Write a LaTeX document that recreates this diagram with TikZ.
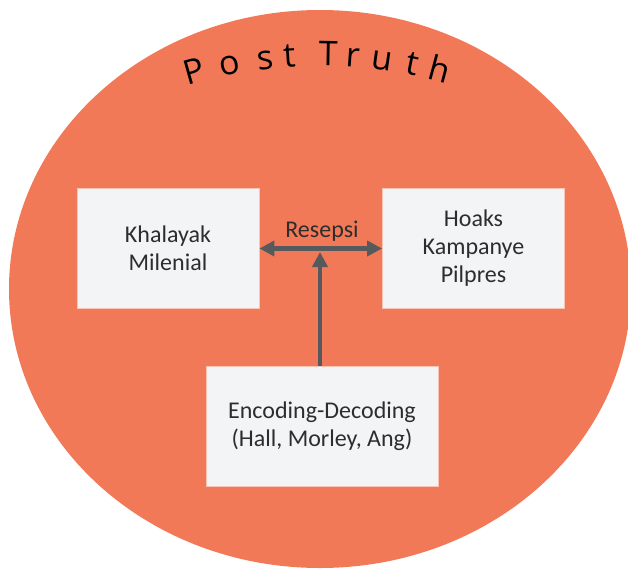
\documentclass[tikz,border=0pt]{standalone}
\usepackage{fontspec}
\setmainfont{Carlito}
\newfontfamily\titlefont{Open Sans}
\usetikzlibrary{arrows.meta,calc}
\definecolor{bgorange}{RGB}{242,121,88}
\definecolor{boxgrey}{RGB}{243,244,246}
\definecolor{boxedge}{RGB}{248,196,182}
\definecolor{arrowgrey}{RGB}{87,90,92}
\definecolor{txt}{RGB}{45,45,45}
\begin{document}
\begin{tikzpicture}[x=0.5pt,y=-0.5pt,
  box/.style={draw=boxedge, line width=0.4pt, fill=boxgrey, minimum width=91pt,
    minimum height=60pt, inner sep=0pt, align=center,
    font=\fontsize{12}{14}\selectfont, text=txt},
  tip/.tip={Triangle[length=7.5pt,width=7.5pt]},
  conn/.style={draw=arrowgrey, line width=2.25pt, -tip},
  dblconn/.style={draw=arrowgrey, line width=2.25pt, tip-tip},
  lbl/.style={font=\fontsize{12}{14}\selectfont, text=txt, inner sep=0pt},
  titleletter/.style={anchor=base, inner sep=0pt, font=\titlefont\fontsize{17}{20}\selectfont, text=black}
]
\useasboundingbox (0,0) rectangle (628,569);
\fill[bgorange] (320,289) ellipse [x radius=311, y radius=279];

\foreach \l/\a [count=\i] in {P/-15.86, o/-11.28, s/-6.76, t/-3.82, T/1.02, r/4.08, u/7.79, t/11.54, h/15.07}
  \node[titleletter, rotate=-\a] (title\i) at ({320+450*sin(\a)},{516-450*cos(\a)}) {\l};

\node[box] (kh) at (168,248.5) {Khalayak\\Milenial};
\node[box] (hk) at (473.5,248.5) {Hoaks\\Kampanye\\Pilpres};
\node[box, minimum width=116pt] (enc) at (322,426) {Encoding-Decoding\\(Hall, Morley, Ang)};
\node[lbl] (res) at (322,231) {Resepsi};

\coordinate (vtip) at (320,252);
\draw[dblconn] (kh.east) -- (hk.west);
\draw[conn] (enc.north -| vtip) -- (vtip);
\end{tikzpicture}
\end{document}
